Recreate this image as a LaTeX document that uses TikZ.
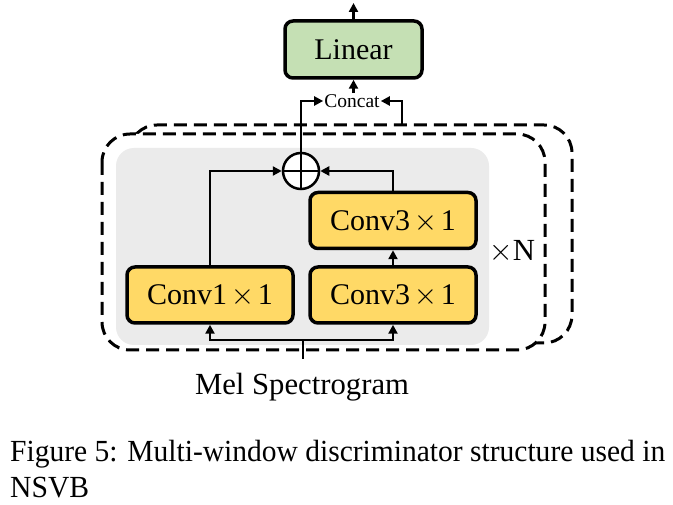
\documentclass[tikz,border=0pt]{standalone}
\usepackage{fontspec}
\setmainfont{Liberation Serif}
\newfontfamily\lmr{lmroman10-regular.otf}
\usetikzlibrary{arrows.meta,calc}
\definecolor{lingreen}{HTML}{C5E0B4}
\definecolor{convyellow}{HTML}{FFD966}
\definecolor{bggray}{HTML}{EBEBEB}
\newcommand{\tms}{\hspace{0.12em}{\lmr ×}\hspace{0.12em}}
\begin{document}
\begin{tikzpicture}[x=1pt,y=-1pt,
  blk/.style={draw,line width=3.5pt,rounded corners=8pt,inner sep=0pt,font=\fontsize{30}{34}\selectfont},
  conv/.style={blk,fill=convyellow,minimum width=166pt,minimum height=56pt},
  arr/.style={line width=2.5pt,-{Triangle[length=9pt,width=9pt]}},
  ln/.style={line width=2.5pt},
  dbox/.style={line width=3pt,dash pattern=on 13pt off 7pt,rounded corners=28pt},
  txt/.style={inner sep=0pt,font=\fontsize{30.7}{36}\selectfont}]
\useasboundingbox (0,0) rectangle (673,505);
% repeated blocks (dashed)
\draw[dbox,fill=white] (129,125) rectangle (572,343);
\draw[dbox,fill=white] (102,134) rectangle (545,350);
\fill[bggray,rounded corners=18pt] (116,148) rectangle (489,345);
% nodes
\node[conv] (c1) at (210,295) {Conv1\tms1};
\node[conv] (c3a) at (393,295) {Conv3\tms1};
\node[conv] (c3b) at (393,220.5) {Conv3\tms1};
\node[draw,circle,line width=2.5pt,minimum size=36pt,inner sep=0pt,fill=white] (sum) at (301,171) {};
\draw[ln] (sum.north) -- (sum.south) (sum.west) -- (sum.east);
\node[blk,fill=lingreen,minimum width=137pt,minimum height=57pt] (lin) at (353.5,49.5) {Linear};
\node[inner sep=1pt,font=\fontsize{19.5}{22}\selectfont] (cat) at (352,101) {Concat};
\node[txt,anchor=base] (mel) at (302,395) {Mel Spectrogram};
\node[txt] (xn) at (512,250) {{\lmr ×}N};
\node[txt,anchor=base west] (cap1) at (10,462) {\resizebox{655pt}{\height}{Figure 5: Multi-window discriminator structure used in}};
\node[txt,anchor=base west] (cap2) at (10,497) {\scalebox{0.965}[1]{NSVB}};
% coordinates
\coordinate (melin) at (303,359);
\coordinate (split) at (303,340);
\coordinate (bt) at (402,125);
\coordinate (out) at (353.5,3);
% connectors
\draw[ln] (melin) -- (split);
\draw[arr] (split) -| (c1.south);
\draw[arr] (split) -| (c3a.south);
\draw[arr] (c3a.north) -- (c3b.south);
\draw[arr] (c1.north) |- (sum.west);
\draw[arr] (c3b.north) |- (sum.east);
\draw[arr] (sum.north) |- (cat.west);
\draw[arr] (bt) |- (cat.east);
\draw[arr] (lin.south |- cat.north) -- (lin.south);
\draw[arr] (lin.north) -- (out);
\end{tikzpicture}
\end{document}
